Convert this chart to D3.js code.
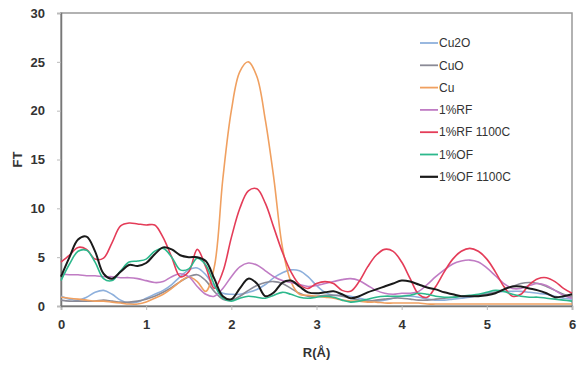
<!DOCTYPE html>
<html>
<head>
<meta charset="utf-8">
<script src="https://cdn.jsdelivr.net/npm/d3@7"></script>
<style>
  body { margin: 0; background: #fff; }
  svg { display: block; }
</style>
</head>
<body>
<div id="chart"></div>
<script>
// R grid (Å), one value every 0.1
var rValues = d3.range(0, 61).map(i => i / 10);

var cu2o = [1.0,0.7,0.6,0.9,1.4,1.6,1.2,0.6,0.3,0.4,0.8,1.2,1.6,2.2,3.0,3.7,3.9,3.2,2.0,1.3,
  1.2,1.2,1.4,1.7,2.2,2.9,3.4,3.7,3.6,3.0,2.1,1.4,1.1,1.1,1.0,0.8,0.6,0.5,0.6,0.8,
  1.0,1.0,0.9,0.7,0.6,0.6,0.7,0.8,0.9,1.1,1.3,1.4,1.5,1.5,1.5,1.4,1.3,1.2,1.0,0.8,0.7];
var cuo = [0.6,0.5,0.5,0.5,0.5,0.6,0.5,0.4,0.4,0.5,0.7,1.0,1.4,1.9,2.5,3.0,3.2,2.6,1.5,0.7,
  0.6,1.0,1.6,2.1,2.4,2.5,2.3,1.8,1.3,1.0,1.0,1.1,1.1,1.0,0.8,0.6,0.5,0.6,0.7,0.8,
  0.8,0.7,0.6,0.6,0.7,0.8,0.9,1.0,1.0,1.1,1.2,1.4,1.7,2.0,2.3,2.4,2.3,2.0,1.6,1.2,0.9];
var cu = [0.9,0.8,0.7,0.6,0.5,0.5,0.4,0.3,0.2,0.2,0.4,0.8,1.2,1.8,2.5,3.0,2.5,1.5,4.0,13.0,
  20.0,24.0,25.0,23.5,19.0,13.0,6.0,2.5,1.2,1.1,1.0,0.9,0.8,0.6,0.5,0.5,0.4,0.4,0.3,0.3,
  0.3,0.3,0.3,0.2,0.2,0.2,0.2,0.2,0.2,0.2,0.2,0.2,0.2,0.2,0.2,0.2,0.2,0.2,0.2,0.2,0.2];
var rf = [3.3,3.2,3.2,3.1,3.1,3.0,3.0,2.9,2.9,2.8,2.6,2.4,2.5,3.0,3.3,3.0,2.0,1.2,1.0,1.8,
  3.0,4.0,4.4,4.2,3.6,3.0,2.6,2.4,2.2,2.0,2.1,2.3,2.5,2.7,2.8,2.6,2.1,1.6,1.3,1.2,
  1.3,1.3,1.5,2.2,3.0,3.7,4.3,4.6,4.7,4.5,3.9,3.1,2.3,1.8,1.8,2.1,2.3,2.1,1.6,1.1,0.8];
var rf1100 = [4.5,5.2,6.0,5.8,4.8,4.9,6.5,8.2,8.5,8.4,8.3,8.3,7.0,5.0,3.0,3.5,5.8,4.0,1.8,3.5,
  7.0,10.0,11.8,12.0,10.5,8.0,5.5,3.5,2.2,1.8,2.3,2.5,2.3,1.6,1.5,2.5,4.0,5.2,5.8,5.6,
  4.5,2.8,1.2,0.9,2.0,3.5,4.8,5.6,5.9,5.6,4.8,3.5,2.0,1.0,1.2,2.2,2.8,2.9,2.5,1.8,1.3];
var of = [2.6,4.3,5.6,5.7,4.5,2.8,2.6,3.6,4.5,4.6,4.8,5.6,5.9,5.0,3.7,3.8,4.9,4.2,2.2,0.8,
  0.5,0.8,1.0,0.9,0.8,1.1,1.4,1.2,0.9,0.8,0.9,1.0,0.9,0.6,0.4,0.5,0.7,0.9,1.0,1.0,
  1.0,1.1,1.3,1.2,1.0,0.9,0.9,1.0,1.1,1.2,1.4,1.6,1.5,1.2,1.0,0.9,0.9,0.8,0.7,0.6,0.5];
var of1100 = [3.0,5.0,6.8,7.1,5.6,3.3,2.8,3.5,4.2,4.1,4.4,5.3,6.0,5.8,5.2,5.0,5.0,4.6,2.8,1.0,
  0.7,1.8,2.8,2.3,1.0,1.4,2.4,2.6,2.0,1.4,1.3,1.4,1.5,1.2,0.8,1.0,1.4,1.7,2.0,2.3,
  2.6,2.5,2.2,1.9,1.7,1.4,1.2,1.0,1.0,1.0,1.1,1.3,1.7,2.0,2.0,1.8,1.6,1.3,0.9,1.0,1.2];

var seriesNames = ["Cu2O", "CuO", "Cu", "1%RF", "1%RF 1100C", "1%OF", "1%OF 1100C"];
var seriesValues = [cu2o, cuo, cu, rf, rf1100, of, of1100];
var seriesColors = ["#8eb0dc", "#8a8a96", "#f0a060", "#c07cc4", "#e43c58", "#2cb88c", "#1a1a1a"];

var xTicks = [0, 1, 2, 3, 4, 5, 6];
var yTicks = [0, 5, 10, 15, 20, 25, 30];

var width = 577, height = 365;
var margin = {top: 13, right: 5, bottom: 59, left: 61};

var svg = d3.select("#chart").append("svg")
    .attr("width", width)
    .attr("height", height)
    .style("font-family", "Liberation Sans, Arial, sans-serif");

var x = d3.scaleLinear().domain([0, 6]).range([margin.left, width - margin.right]);
var y = d3.scaleLinear().domain([0, 30]).range([height - margin.bottom, margin.top]);

// frame
svg.append("rect")
    .attr("x", margin.left)
    .attr("y", margin.top)
    .attr("width", width - margin.left - margin.right)
    .attr("height", height - margin.top - margin.bottom)
    .attr("fill", "none")
    .attr("stroke", "#999")
    .attr("stroke-width", 1.5);

// axes
var xAxis = svg.append("g")
    .attr("transform", `translate(0,${height - margin.bottom})`)
    .call(d3.axisBottom(x).tickValues(xTicks).tickFormat(d3.format("d")).tickSize(4));
var yAxis = svg.append("g")
    .attr("transform", `translate(${margin.left},0)`)
    .call(d3.axisLeft(y).tickValues(yTicks).tickFormat(d3.format("d")).tickSize(4));

[xAxis, yAxis].forEach(a => {
    a.select(".domain").attr("stroke", "#777").attr("stroke-width", 1.5);
    a.selectAll(".tick line").attr("stroke", "#bbb");
    a.selectAll("text")
        .attr("fill", "#333")
        .style("font-size", "13px")
        .style("font-weight", "bold");
});
xAxis.selectAll("text").attr("dy", "1.2em");
yAxis.selectAll("text").attr("dx", "-0.7em");

// axis titles
svg.append("text")
    .attr("x", x(3))
    .attr("y", height - 8)
    .attr("text-anchor", "middle")
    .attr("fill", "#333")
    .style("font-size", "13px")
    .style("font-weight", "bold")
    .text("R(Å)");

svg.append("text")
    .attr("transform", `translate(22,${y(15)}) rotate(-90)`)
    .attr("text-anchor", "middle")
    .attr("fill", "#333")
    .style("font-size", "13px")
    .style("font-weight", "bold")
    .text("FT");

// lines
var line = d3.line()
    .x((d, i) => x(rValues[i]))
    .y(d => y(d))
    .curve(d3.curveCatmullRom.alpha(0.5));

svg.append("g")
    .selectAll("path")
    .data(seriesValues)
    .join("path")
    .attr("d", d => line(d))
    .attr("fill", "none")
    .attr("stroke", (d, i) => seriesColors[i])
    .attr("stroke-width", (d, i) => i === 6 ? 2 : 1.6);

// legend
var legend = svg.append("g")
    .attr("transform", "translate(420,43)")
    .selectAll("g")
    .data(seriesNames)
    .join("g")
    .attr("transform", (d, i) => `translate(0,${i * 22.3})`);

legend.append("line")
    .attr("x1", 0).attr("x2", 18)
    .attr("stroke", (d, i) => seriesColors[i])
    .attr("stroke-width", (d, i) => i === 6 ? 2.2 : 1.8);

legend.append("text")
    .attr("x", 19)
    .attr("dy", "0.35em")
    .attr("fill", "#333")
    .style("font-size", "12px")
    .text(d => d);
</script>
</body>
</html>
